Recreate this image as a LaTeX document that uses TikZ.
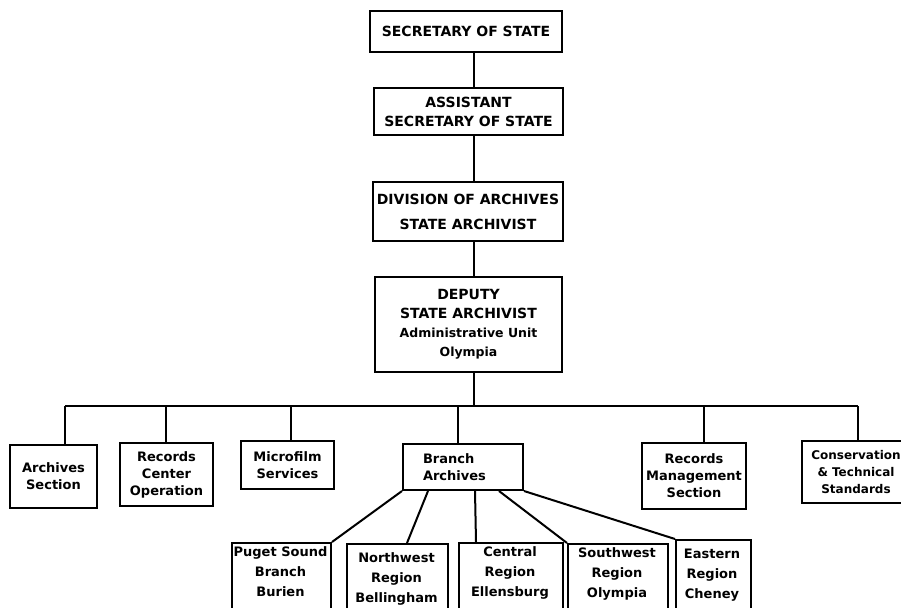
\documentclass[tikz,border=0pt]{standalone}
\usepackage{fontspec}
\setmainfont{DejaVu Sans}
\usetikzlibrary{calc}
\newcommand\capsz{\fontsize{14}{19}\selectfont}
\begin{document}
\begin{tikzpicture}[x=1pt,y=-1pt,
  box/.style={draw, line width=2pt, inner sep=0pt, align=center, font=\bfseries\fontsize{13}{17}\selectfont},
  capbox/.style={box, font=\bfseries\fontsize{14}{19}\selectfont},
  bbox/.style={draw, line width=2pt, inner sep=0pt, anchor=north west, minimum height=90pt},
  btext/.style={align=center, inner sep=0pt, font=\bfseries\fontsize{13}{20}\selectfont},
  link/.style={line width=2pt}]
\clip (0,0) rectangle (901,607);
\fill[white] (0,0) rectangle (901,607);
% top chain
\node[capbox, minimum width=192pt, minimum height=41pt] (sec) at (466,31.5) {SECRETARY OF STATE};
\node[capbox, minimum width=189pt, minimum height=47pt] (asst) at (468.5,111.5) {ASSISTANT\\SECRETARY OF STATE};
\node[capbox, font=\bfseries\fontsize{14}{25}\selectfont, minimum width=190pt, minimum height=59pt] (div) at (468,211.5) {DIVISION OF ARCHIVES\\STATE ARCHIVIST};
\node[box, font=\bfseries\fontsize{12.5}{19}\selectfont, minimum width=187pt, minimum height=95pt] (dep) at (468.5,324.5) {{\capsz DEPUTY}\\{\capsz STATE ARCHIVIST}\\Administrative Unit\\Olympia};
\coordinate (sp) at (474,0);
\draw[link] (sec.south -| sp) -- (asst.north -| sp);
\draw[link] (asst.south -| sp) -- (div.north -| sp);
\draw[link] (div.south -| sp) -- (dep.north -| sp);
% bus
\coordinate (d1) at (65,406);
\coordinate (d2) at (166,406);
\coordinate (d3) at (291,406);
\coordinate (d4) at (458,406);
\coordinate (d5) at (704,406);
\coordinate (d6) at (858,406);
\draw[link] (dep.south -| sp) -- (d1 -| sp);
\draw[link] (d1) -- (d6);
% top row
\node[box, minimum width=87pt, minimum height=63pt] (arch) at (53.5,476.5) {Archives\\Section};
\node[box, minimum width=93pt, minimum height=63pt] (rco) at (166.5,474.5) {Records\\Center\\Operation};
\node[box, minimum width=93pt, minimum height=48pt] (mic) at (287.5,465) {Microfilm\\Services};
\node[box, minimum width=120pt, minimum height=46pt, text width=80pt, inner xsep=20pt, align=left] (bra) at (463,467) {Branch\\Archives};
\node[box, minimum width=104pt, minimum height=66pt] (rms) at (694,476) {Records\\Management\\Section};
\node[box, minimum width=108pt, minimum height=62pt, font=\bfseries\fontsize{12}{17}\selectfont] (cons) at (856,472) {Conservation\\\& Technical\\Standards};
\draw[link] (d1) -- (arch.north -| d1);
\draw[link] (d2) -- (rco.north -| d2);
\draw[link] (d3) -- (mic.north -| d3);
\draw[link] (d4) -- (bra.north -| d4);
\draw[link] (d5) -- (rms.north -| d5);
\draw[link] (d6) -- (cons.north -| d6);
% bottom row
\node[bbox, minimum width=99pt] (pug) at (231,542) {};
\node[bbox, minimum width=101pt] (nw) at (346,543) {};
\node[bbox, minimum width=104pt] (cen) at (458,542) {};
\node[bbox, minimum width=100pt] (sw) at (567,543) {};
\node[bbox, minimum width=75pt] (ea) at (675,539) {};
\node[btext] (pugt) at (280.5,572) {Puget Sound\\Branch\\Burien};
\node[btext] (nwt) at (396.5,579) {Northwest\\Region\\Bellingham};
\node[btext] (cent) at (510,573) {Central\\Region\\Ellensburg};
\node[btext] (swt) at (617,574) {Southwest\\Region\\Olympia};
\node[btext] (eat) at (712,575) {Eastern\\Region\\Cheney};
\draw[link] (bra.south west) -- (pug.north east);
\draw[link] ([xshift=26pt]bra.south west) -- ([xshift=61pt]nw.north west);
\draw[link] ([xshift=73pt]bra.south west) -- ([xshift=18pt]cen.north west);
\draw[link] ([xshift=97pt]bra.south west) -- (sw.north west);
\draw[link] (bra.south east) -- (ea.north west);
\end{tikzpicture}
\end{document}
